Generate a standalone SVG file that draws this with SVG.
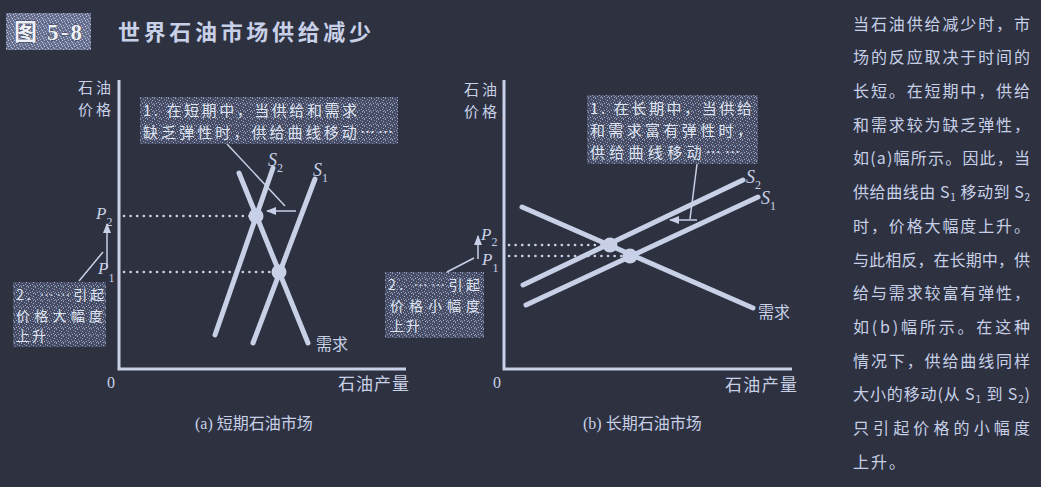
<svg xmlns="http://www.w3.org/2000/svg" width="1041" height="487" viewBox="0 0 1041 487">
<style>
.bg{fill:#2e3240}
.curve{stroke:#c8d0e8;stroke-width:5;stroke-linecap:round;fill:none}
.axis{stroke:#c8d0e8;stroke-width:3;fill:none}
.dot{stroke:#c8d0e8;stroke-width:2.6;stroke-dasharray:0.1 6.5;stroke-linecap:round;fill:none}
.lead{stroke:#c8d0e8;stroke-width:1.5;fill:none}
.pt{fill:#c8d0e8}
.cjk{font-family:"Noto Sans CJK SC","Noto Sans",sans-serif;fill:#c8d0e8}
.note{font-family:"Noto Sans CJK SC","Noto Sans",sans-serif;fill:#dfe4f2;font-size:15px}
.note2{font-family:"Noto Sans CJK SC","Noto Sans",sans-serif;fill:#dfe4f2;font-size:14px}
.it{font-family:"Liberation Serif",serif;font-style:italic;fill:#c8d0e8}
.ser{font-family:"Liberation Serif",serif;fill:#c8d0e8}
.body{font-family:"Noto Sans CJK SC","Noto Sans",sans-serif;fill:#c8d0e8;font-size:16px}
.box{fill:url(#noise)}
</style>
<defs>
<pattern id="noise" width="7" height="7" patternUnits="userSpaceOnUse">
<rect width="7" height="7" fill="#464c63"/>
<rect x="0" y="0" width="1" height="1" fill="#9aa3c2"/>
<rect x="3" y="1" width="1" height="1" fill="#8891b0"/>
<rect x="5" y="2" width="1" height="1" fill="#a5aecb"/>
<rect x="1" y="3" width="1" height="1" fill="#7f88a8"/>
<rect x="4" y="4" width="1" height="1" fill="#9aa3c2"/>
<rect x="6" y="5" width="1" height="1" fill="#8891b0"/>
<rect x="2" y="5" width="1" height="1" fill="#a5aecb"/>
<rect x="0" y="6" width="1" height="1" fill="#7f88a8"/>
<rect x="5" y="6" width="1" height="1" fill="#9aa3c2"/>
</pattern>
<pattern id="noise2" width="6" height="6" patternUnits="userSpaceOnUse">
<rect width="6" height="6" fill="#6a7292"/>
<rect x="0" y="0" width="1" height="1" fill="#c0c8e0"/>
<rect x="3" y="1" width="1" height="1" fill="#aeb6d2"/>
<rect x="1" y="2" width="1" height="1" fill="#c8d0e8"/>
<rect x="4" y="3" width="1" height="1" fill="#b4bcd8"/>
<rect x="2" y="4" width="1" height="1" fill="#c0c8e0"/>
<rect x="5" y="5" width="1" height="1" fill="#aeb6d2"/>
<rect x="0" y="4" width="1" height="1" fill="#4e5470"/>
<rect x="3" y="5" width="1" height="1" fill="#4e5470"/>
</pattern>
<marker id="ah" markerWidth="10" markerHeight="8" refX="9" refY="4" orient="auto" markerUnits="userSpaceOnUse">
<path d="M0,0 L10,4 L0,8 Z" fill="#c8d0e8"/>
</marker>
</defs>
<rect class="bg" x="0" y="0" width="1041" height="487"/>

<g id="title">
<rect x="6" y="13" width="85" height="37" fill="url(#noise2)"/>
<text x="14" y="40" font-family="Liberation Serif,'Noto Sans CJK SC',serif" font-weight="bold" font-size="23" fill="#eef1f8" stroke="#3a3f52" stroke-width="1" paint-order="stroke" textLength="68" lengthAdjust="spacing">图 5-8</text>
<text x="118" y="40" class="cjk" font-size="22" font-weight="bold" textLength="253" lengthAdjust="spacing">世界石油市场供给减少</text>
</g>

<g id="panel-a">
<g id="a-axes">
<path class="axis" d="M119,80 V369 H406"/>
<text class="cjk" x="78" y="93" font-size="15" textLength="33" lengthAdjust="spacing">石油</text>
<text class="cjk" x="78" y="115" font-size="15" textLength="33" lengthAdjust="spacing">价格</text>
<text class="ser" x="107" y="388" font-size="16">0</text>
<text class="cjk" x="338" y="390" font-size="17" textLength="71" lengthAdjust="spacing">石油产量</text>
<text class="cjk" x="195" y="429" font-size="16"><tspan class="ser">(a) </tspan>短期石油市场</text>
</g>
<g id="a-curves">
<line class="curve" x1="273" y1="168" x2="215" y2="335"/>
<line class="curve" x1="315" y1="179" x2="253" y2="343"/>
<line class="curve" x1="239" y1="173" x2="308" y2="343"/>
<text class="it" x="268" y="166" font-size="18">S<tspan font-size="12" dy="6" font-style="normal">2</tspan></text>
<text class="it" x="313" y="176" font-size="18">S<tspan font-size="12" dy="6" font-style="normal">1</tspan></text>
<text class="cjk" x="316" y="350" font-size="16">需求</text>
</g>
<g id="a-equilibria">
<circle class="pt" cx="256" cy="216" r="7.5"/>
<circle class="pt" cx="279" cy="272" r="7.5"/>
<text class="it" x="96" y="219" font-size="17">P<tspan font-size="12" dy="7" font-style="normal">2</tspan></text>
<text class="it" x="98" y="274" font-size="17">P<tspan font-size="12" dy="8" font-style="normal">1</tspan></text>
</g>
<g id="a-note1">
<rect class="box" x="140" y="97" width="258" height="47"/>
<text class="note" x="143" y="116" textLength="214" lengthAdjust="spacing">1. 在短期中，当供给和需求</text>
<text class="note" x="143" y="138" textLength="250" lengthAdjust="spacing">缺乏弹性时，供给曲线移动……</text>
</g>
<g id="a-note2">
<rect class="box" x="13" y="282" width="93" height="65"/>
<text class="note2" x="16" y="300" textLength="88" lengthAdjust="spacing">2. ……引起</text>
<text class="note2" x="16" y="320.5" textLength="87" lengthAdjust="spacing">价格大幅度</text>
<text class="note2" x="16" y="341" letter-spacing="2">上升</text>
</g>
</g>

<g id="panel-b">
<g id="b-axes">
<path class="axis" d="M504,80 V369 H792"/>
<text class="cjk" x="464" y="95" font-size="15" textLength="33" lengthAdjust="spacing">石油</text>
<text class="cjk" x="464" y="117" font-size="15" textLength="33" lengthAdjust="spacing">价格</text>
<text class="ser" x="493" y="388" font-size="16">0</text>
<text class="cjk" x="725" y="391" font-size="17" textLength="72" lengthAdjust="spacing">石油产量</text>
<text class="cjk" x="583" y="429" font-size="16"><tspan class="ser">(b) </tspan>长期石油市场</text>
</g>
<g id="b-curves">
<line class="curve" x1="523" y1="285" x2="743" y2="180"/>
<line class="curve" x1="526" y1="305" x2="758" y2="197"/>
<line class="curve" x1="522" y1="207" x2="753" y2="308"/>
<text class="it" x="746" y="183" font-size="18">S<tspan font-size="12" dy="6" font-style="normal">2</tspan></text>
<text class="it" x="761" y="204" font-size="18">S<tspan font-size="12" dy="6" font-style="normal">1</tspan></text>
<text class="cjk" x="758" y="318" font-size="16">需求</text>
</g>
<g id="b-equilibria">
<circle class="pt" cx="610" cy="245" r="7.5"/>
<circle class="pt" cx="630" cy="256" r="7.5"/>
<text class="it" x="481" y="240" font-size="17">P<tspan font-size="12" dy="5.5" font-style="normal">2</tspan></text>
<text class="it" x="482" y="265" font-size="17">P<tspan font-size="12" dy="7" font-style="normal">1</tspan></text>
</g>
<g id="b-note1">
<rect class="box" x="587" y="95" width="171" height="69"/>
<text class="note" x="590" y="114" textLength="162" lengthAdjust="spacing">1. 在长期中，当供给</text>
<text class="note" x="590" y="136" textLength="162" lengthAdjust="spacing">和需求富有弹性时，</text>
<text class="note" x="590" y="158" textLength="150" lengthAdjust="spacing">供给曲线移动……</text>
</g>
<g id="b-note2">
<rect class="box" x="385" y="272" width="99" height="66"/>
<text class="note2" x="388" y="290" textLength="92" lengthAdjust="spacing">2. ……引起</text>
<text class="note2" x="390" y="310.5" textLength="90" lengthAdjust="spacing">价格小幅度</text>
<text class="note2" x="390" y="331" letter-spacing="2">上升</text>
</g>
</g>

<g id="connectors">
<line class="dot" x1="124" y1="216" x2="250" y2="216"/>
<line class="dot" x1="124" y1="272" x2="272" y2="272"/>
<line class="dot" x1="509" y1="245" x2="602" y2="245"/>
<line class="dot" x1="509" y1="256" x2="622" y2="256"/>
<line class="lead" x1="227" y1="144" x2="285" y2="206"/>
<line class="lead" x1="296" y1="211" x2="267" y2="211" stroke-width="2" marker-end="url(#ah)"/>
<line class="lead" x1="107" y1="268" x2="107" y2="224" stroke-width="2.2" marker-end="url(#ah)"/>
<line class="lead" x1="79" y1="281" x2="103" y2="252"/>
<line class="lead" x1="697" y1="164" x2="690" y2="219"/>
<line class="lead" x1="697" y1="220" x2="670" y2="220" stroke-width="1.8" marker-end="url(#ah)"/>
<line class="lead" x1="478" y1="259" x2="478" y2="236" stroke-width="2.2" marker-end="url(#ah)"/>
<line class="lead" x1="447" y1="272" x2="474" y2="258"/>
</g>

<g id="side-text" class="body">
<text x="853" y="30" textLength="177" lengthAdjust="spacing">当石油供给减少时，市</text>
<text x="853" y="63" textLength="177" lengthAdjust="spacing">场的反应取决于时间的</text>
<text x="853" y="97" textLength="177" lengthAdjust="spacing">长短。在短期中，供给</text>
<text x="853" y="131" textLength="177" lengthAdjust="spacing">和需求较为缺乏弹性，</text>
<text x="853" y="164" textLength="177" lengthAdjust="spacing">如(a)幅所示。因此，当</text>
<text x="853" y="198" textLength="177" lengthAdjust="spacing">供给曲线由 S<tspan font-size="10" dy="3">1</tspan><tspan dy="-3"> 移动到 S</tspan><tspan font-size="10" dy="3">2</tspan></text>
<text x="853" y="232" textLength="177" lengthAdjust="spacing">时，价格大幅度上升。</text>
<text x="853" y="266" textLength="177" lengthAdjust="spacing">与此相反，在长期中，供</text>
<text x="853" y="299" textLength="177" lengthAdjust="spacing">给与需求较富有弹性，</text>
<text x="853" y="333" textLength="177" lengthAdjust="spacing">如(b)幅所示。在这种</text>
<text x="853" y="367" textLength="177" lengthAdjust="spacing">情况下，供给曲线同样</text>
<text x="853" y="400" textLength="177" lengthAdjust="spacing">大小的移动(从 S<tspan font-size="10" dy="3">1</tspan><tspan dy="-3"> 到 S</tspan><tspan font-size="10" dy="3">2</tspan><tspan dy="-3">)</tspan></text>
<text x="853" y="434" textLength="177" lengthAdjust="spacing">只引起价格的小幅度</text>
<text x="853" y="468" letter-spacing="2">上升。</text>
</g>
</svg>
